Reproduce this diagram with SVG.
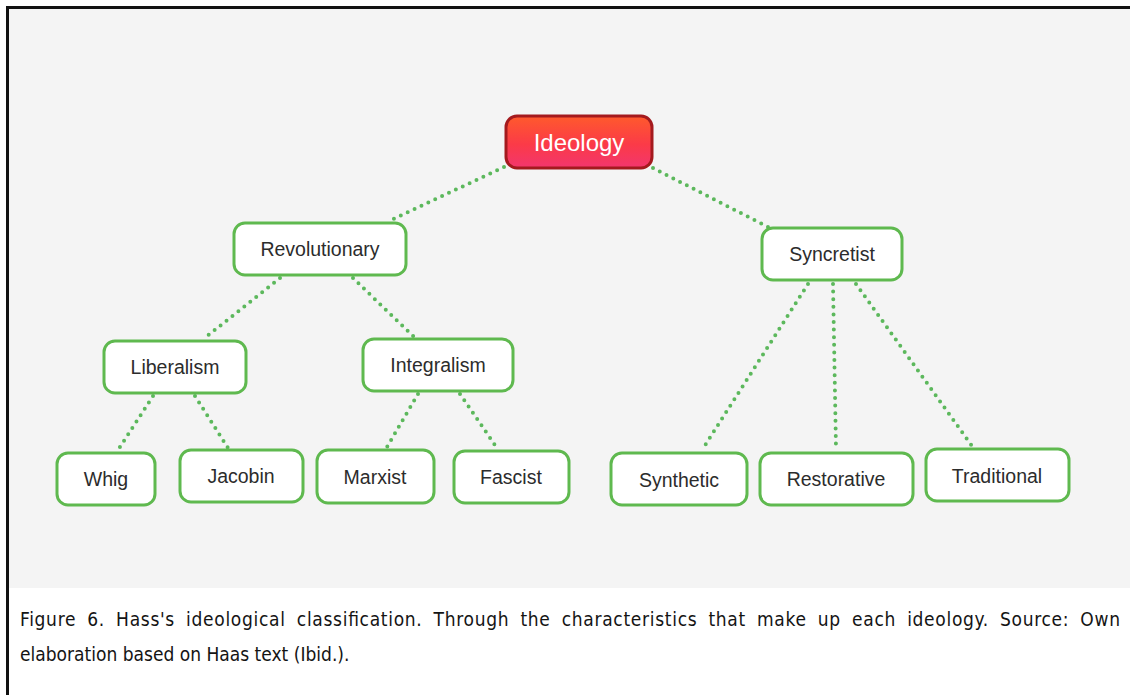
<svg xmlns="http://www.w3.org/2000/svg" width="1130" height="695" viewBox="0 0 1130 695">
  <defs>
    <linearGradient id="rootFill" x1="0" y1="0" x2="0" y2="1">
      <stop offset="0" stop-color="#ff5a2c"/>
      <stop offset="0.55" stop-color="#fb3a48"/>
      <stop offset="1" stop-color="#f2366e"/>
    </linearGradient>
    <style>
      .node rect { fill: #ffffff; stroke: #5fb94f; stroke-width: 3; }
      .node text { font-family: "Liberation Sans", Arial, Helvetica, sans-serif; font-size: 19.5px; fill: #2c2c2c; text-anchor: middle; }
      .root rect { fill: url(#rootFill); stroke: #a41a1e; stroke-width: 3; }
      .root text { font-family: "Liberation Sans", Arial, Helvetica, sans-serif; font-size: 24px; fill: #ffffff; text-anchor: middle; }
      .links line { stroke: #5cb85c; stroke-width: 4; stroke-linecap: round; stroke-dasharray: 0 7.6; fill: none; }
      .caption { font-family: "DejaVu Sans Condensed", "DejaVu Sans", sans-serif; font-size: 19px; fill: #141414; }
    </style>
  </defs>

  <!-- page background and frame -->
  <rect x="0" y="0" width="1130" height="695" fill="#ffffff"/>
  <rect x="8" y="8" width="1122" height="580" fill="#f4f4f4"/>
  <path d="M7.5 695 V7.5 H1130" fill="none" stroke="#111111" stroke-width="3"/>

  <!-- dotted connectors -->
  <g id="connectors" class="links">
    <line x1="504" y1="167" x2="389" y2="221"/>
    <line x1="653" y1="168" x2="768" y2="227"/>
    <line x1="280" y1="278" x2="206" y2="337"/>
    <line x1="353" y1="278" x2="414" y2="337"/>
    <line x1="153" y1="396" x2="118" y2="450"/>
    <line x1="195" y1="396" x2="228" y2="448"/>
    <line x1="418" y1="394" x2="387" y2="447"/>
    <line x1="460" y1="394" x2="497" y2="448"/>
    <line x1="808" y1="284" x2="702" y2="450"/>
    <line x1="833" y1="284" x2="836" y2="449"/>
    <line x1="856" y1="284" x2="972" y2="446"/>
  </g>

  <!-- nodes -->
  <g id="ideology" class="root">
    <rect x="506" y="116" width="146" height="52" rx="11"/>
    <text x="579" y="151">Ideology</text>
  </g>
  <g id="revolutionary" class="node">
    <rect x="234" y="223" width="172" height="52" rx="11"/>
    <text x="320" y="256">Revolutionary</text>
  </g>
  <g id="syncretist" class="node">
    <rect x="762" y="228" width="140" height="52" rx="11"/>
    <text x="832" y="261">Syncretist</text>
  </g>
  <g id="liberalism" class="node">
    <rect x="104" y="341" width="142" height="52" rx="11"/>
    <text x="175" y="374">Liberalism</text>
  </g>
  <g id="integralism" class="node">
    <rect x="363" y="339" width="150" height="52" rx="11"/>
    <text x="438" y="372">Integralism</text>
  </g>
  <g id="whig" class="node">
    <rect x="57" y="453" width="98" height="52" rx="11"/>
    <text x="106" y="486">Whig</text>
  </g>
  <g id="jacobin" class="node">
    <rect x="180" y="450" width="123" height="52" rx="11"/>
    <text x="241" y="483">Jacobin</text>
  </g>
  <g id="marxist" class="node">
    <rect x="317" y="450" width="117" height="53" rx="11"/>
    <text x="375" y="484">Marxist</text>
  </g>
  <g id="fascist" class="node">
    <rect x="454" y="451" width="115" height="52" rx="11"/>
    <text x="511" y="484">Fascist</text>
  </g>
  <g id="synthetic" class="node">
    <rect x="611" y="453" width="136" height="52" rx="11"/>
    <text x="679" y="487">Synthetic</text>
  </g>
  <g id="restorative" class="node">
    <rect x="760" y="453" width="153" height="52" rx="11"/>
    <text x="836" y="486">Restorative</text>
  </g>
  <g id="traditional" class="node">
    <rect x="926" y="449" width="143" height="52" rx="11"/>
    <text x="997" y="483">Traditional</text>
  </g>

  <!-- caption, first line justified to the full column width -->
  <text class="caption" x="20" y="626" word-spacing="5" textLength="1100" lengthAdjust="spacing">Figure 6. Hass's ideological classification. Through the characteristics that make up each ideology. Source: Own</text>
  <text class="caption" x="20" y="661">elaboration based on Haas text (Ibid.).</text>
</svg>
